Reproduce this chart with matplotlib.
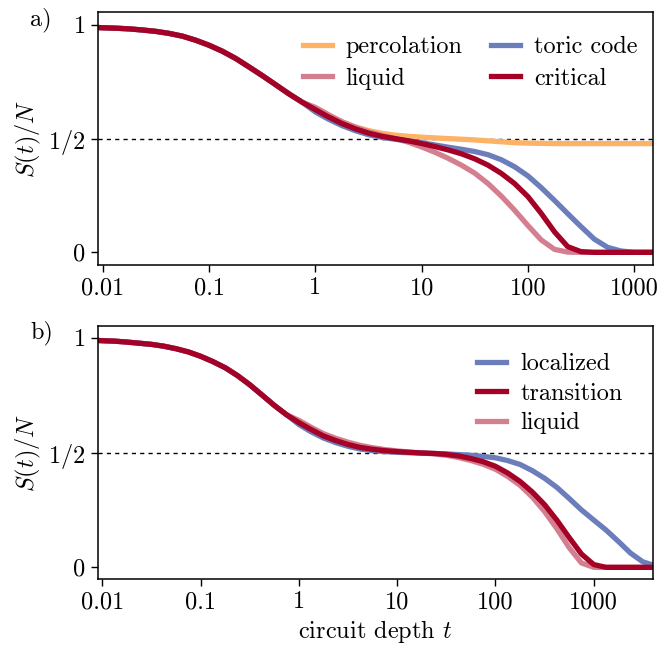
import matplotlib
matplotlib.use("Agg")
import matplotlib.pyplot as plt

plt.rcParams["font.family"] = "serif"
plt.rcParams["font.serif"] = ["cmr10"]
plt.rcParams["mathtext.fontset"] = "cm"
plt.rcParams["axes.formatter.use_mathtext"] = True
plt.rcParams["axes.unicode_minus"] = False

# panel a) -- circuit depth grid and S(t)/N
T_A = [0.009, 0.01, 0.0133, 0.0178, 0.0237, 0.0316, 0.0422, 0.0562, 0.075,
       0.1, 0.133, 0.178, 0.237, 0.316, 0.422, 0.562, 0.75,
       1, 1.33, 1.78, 2.37, 3.16, 4.22, 5.62, 7.5,
       10, 13.3, 17.8, 23.7, 31.6, 42.2, 56.2, 75,
       100, 133, 178, 237, 316, 422, 562, 750,
       1000, 1330, 1500]
EARLY_A = [0.988, 0.987, 0.985, 0.982, 0.977, 0.971, 0.962, 0.950, 0.932,
           0.910, 0.884, 0.852, 0.815, 0.777, 0.737, 0.697, 0.660]
PERCOLATION_A = EARLY_A + [
    0.632, 0.600, 0.573, 0.552, 0.535, 0.523, 0.515, 0.510,
    0.506, 0.503, 0.500, 0.497, 0.494, 0.490, 0.486, 0.482,
    0.480, 0.479, 0.478, 0.478, 0.478, 0.478, 0.478, 0.478,
    0.478, 0.478, 0.478]
LIQUID_A = EARLY_A + [
    0.637, 0.605, 0.574, 0.550, 0.530, 0.514, 0.500, 0.484,
    0.463, 0.440, 0.413, 0.383, 0.348, 0.302, 0.247, 0.185,
    0.118, 0.055, 0.013, 0.001, 0.0, 0.0, 0.0, 0.0,
    0.0, 0.0, 0.0]
TORIC_A = EARLY_A + [
    0.617, 0.585, 0.557, 0.535, 0.517, 0.505, 0.497, 0.490,
    0.482, 0.472, 0.462, 0.453, 0.443, 0.429, 0.407, 0.376,
    0.336, 0.285, 0.228, 0.170, 0.113, 0.058, 0.022, 0.006,
    0.0, 0.0, 0.0]
CRITICAL_A = EARLY_A + [
    0.627, 0.595, 0.566, 0.543, 0.524, 0.510, 0.500, 0.490,
    0.478, 0.465, 0.450, 0.433, 0.411, 0.383, 0.347, 0.302,
    0.245, 0.172, 0.090, 0.025, 0.003, 0.0, 0.0, 0.0,
    0.0, 0.0, 0.0]

# panel b)
T_B = [0.009, 0.01, 0.0133, 0.0178, 0.0237, 0.0316, 0.0422, 0.0562, 0.075,
       0.1, 0.133, 0.178, 0.237, 0.316, 0.422, 0.562, 0.75,
       1, 1.33, 1.78, 2.37, 3.16, 4.22, 5.62, 7.5,
       10, 13.3, 17.8, 23.7, 31.6, 42.2, 56.2, 75,
       100, 133, 178, 237, 316, 422, 562, 750,
       1000, 1330, 1780, 2370, 3160, 4000]
EARLY_B = [0.988, 0.987, 0.985, 0.981, 0.976, 0.971, 0.963, 0.952, 0.938,
           0.919, 0.896, 0.869, 0.835, 0.795, 0.750, 0.705, 0.664]
LOCALIZED_B = EARLY_B + [
    0.622, 0.590, 0.563, 0.543, 0.527, 0.515, 0.508, 0.504,
    0.501, 0.499, 0.497, 0.496, 0.494, 0.491, 0.488, 0.483,
    0.477, 0.465, 0.448, 0.421, 0.388, 0.348, 0.300, 0.250,
    0.206, 0.163, 0.113, 0.062, 0.024, 0.010]
TRANSITION_B = EARLY_B + [
    0.630, 0.600, 0.572, 0.552, 0.535, 0.522, 0.514, 0.508,
    0.504, 0.501, 0.498, 0.496, 0.492, 0.485, 0.474, 0.460,
    0.440, 0.411, 0.374, 0.328, 0.273, 0.205, 0.130, 0.058,
    0.012, 0.0, 0.0, 0.0, 0.0, 0.0]
LIQUID_B = EARLY_B + [
    0.640, 0.610, 0.582, 0.562, 0.545, 0.531, 0.521, 0.513,
    0.507, 0.502, 0.498, 0.494, 0.488, 0.478, 0.465, 0.449,
    0.427, 0.396, 0.357, 0.306, 0.243, 0.168, 0.086, 0.019,
    0.0, 0.0, 0.0, 0.0, 0.0, 0.0]

X_TICKS = [0.01, 0.1, 1, 10, 100, 1000]
X_TICKLABELS = ["0.01", "0.1", "1", "10", "100", "1000"]
Y_TICKS = [0, 0.5, 1]
Y_TICKLABELS = ["$0$", "$1/2$", "$1$"]

ORANGE = "#FDB265"
PINK = "#D47F90"
BLUE = "#6C7DBB"
RED = "#A50026"
LW = 3.8
FS = 17.5


def style_axis(ax, xmax, ylim):
    ax.set_xscale("log")
    ax.set_xlim(0.009, xmax)
    ax.set_ylim(*ylim)
    ax.set_xticks(X_TICKS)
    ax.set_xticklabels(X_TICKLABELS)
    ax.minorticks_off()
    ax.set_yticks(Y_TICKS)
    ax.set_yticklabels(Y_TICKLABELS)
    ax.tick_params(direction="out", length=5, width=1.0, labelsize=FS, pad=4)
    for sp in ax.spines.values():
        sp.set_linewidth(1.1)
    ax.axhline(0.5, color="black", linestyle=(0, (3, 3)), linewidth=1.0,
               zorder=1)
    ax.set_ylabel("$S(t)/N$", fontsize=FS, labelpad=4)


fig = plt.figure(figsize=(6.71, 6.46), dpi=100)
ax1 = fig.add_axes([0.146, 0.590, 0.827, 0.391])
ax2 = fig.add_axes([0.146, 0.104, 0.827, 0.391])

ax1.plot(T_A, PERCOLATION_A, color=ORANGE, lw=LW, label="percolation")
ax1.plot(T_A, LIQUID_A, color=PINK, lw=LW, label="liquid")
ax1.plot(T_A, TORIC_A, color=BLUE, lw=LW, label="toric code")
ax1.plot(T_A, CRITICAL_A, color=RED, lw=LW, label="critical")
style_axis(ax1, 1500, (-0.055, 1.055))
ax1.legend(ncol=2, loc="upper right", bbox_to_anchor=(0.972, 0.905),
           frameon=False, fontsize=FS, handlelength=1.2, handletextpad=0.55,
           columnspacing=1.2, labelspacing=0.38, borderaxespad=0,
           borderpad=0)

ax2.plot(T_B, LIQUID_B, color=PINK, lw=LW, label="liquid")
ax2.plot(T_B, LOCALIZED_B, color=BLUE, lw=LW, label="localized")
ax2.plot(T_B, TRANSITION_B, color=RED, lw=LW, label="transition")
style_axis(ax2, 4000, (-0.05, 1.05))
h, l = ax2.get_legend_handles_labels()
order = [1, 2, 0]
ax2.legend([h[i] for i in order], [l[i] for i in order], loc="upper right",
           bbox_to_anchor=(0.946, 0.893), frameon=False, fontsize=FS,
           handlelength=1.2, handletextpad=0.6, labelspacing=0.3,
           borderaxespad=0, borderpad=0)
ax2.set_xlabel("circuit depth $t$", fontsize=FS, labelpad=3)

fig.text(0.045, 0.969, "a)", fontsize=FS, ha="left", va="center")
fig.text(0.045, 0.485, "b)", fontsize=FS, ha="left", va="center")

fig.savefig("out.png", dpi=100)
